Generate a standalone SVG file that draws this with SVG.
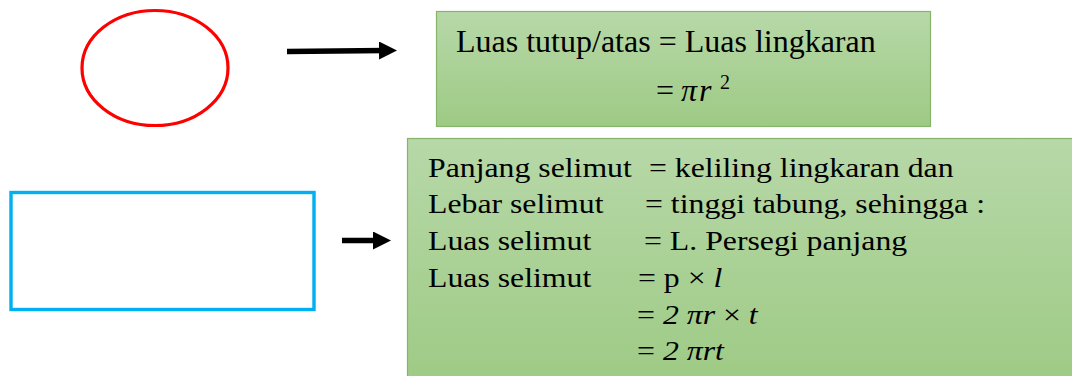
<svg xmlns="http://www.w3.org/2000/svg" width="1072" height="376" viewBox="0 0 1072 376">
<style>
.box{stroke:#86B46A;stroke-width:1.2;fill:url(#g)}
.t{font-family:'Liberation Serif',Tinos,'Times New Roman',serif;fill:#000}
.i{font-style:italic}
.conn{stroke:#000;stroke-width:5.5;fill:none;marker-end:url(#ah)}
</style>
<defs>
<linearGradient id="g" x1="0" y1="0" x2="0" y2="1">
<stop offset="0" stop-color="#B7D8A8"/>
<stop offset="1" stop-color="#9DCA84"/>
</linearGradient>
<marker id="ah" markerUnits="userSpaceOnUse" markerWidth="18" markerHeight="18" refX="6" refY="9" orient="auto">
<path d="M0,0 L18,9 L0,18 z" fill="#000"/>
</marker>
</defs>
<g id="circle"><ellipse cx="155" cy="68" rx="73" ry="57.5" fill="none" stroke="#FF0000" stroke-width="3.2"/></g>
<g id="rect"><rect x="11" y="192.5" width="303" height="117" fill="none" stroke="#00B0F0" stroke-width="3.4"/></g>
<g id="connectors">
<path class="conn" d="M287,51.5 L385,50.5"/>
<path class="conn" d="M342,240.5 L379,240.5"/>
</g>
<g id="box-top">
<rect class="box" x="436.5" y="11.5" width="494" height="115"/>
<text class="t" x="456" y="52" font-size="32">Luas tutup/atas = Luas lingkaran</text>
<text class="t" x="656" y="101" font-size="32">=<tspan class="i" x="681">π</tspan><tspan class="i" x="699">r</tspan><tspan font-size="20" x="720" y="89">2</tspan></text>
</g>
<g id="box-bottom">
<rect class="box" x="407.5" y="138.5" width="680" height="250"/>
<g class="t" font-size="28" transform="matrix(1.135 0 0 1 -57.78 0)">
<text x="428" y="177">Panjang selimut</text><text x="622.7" y="177">= keliling lingkaran dan</text>
<text x="428" y="213.5">Lebar selimut</text><text x="619.2" y="213.5">= tinggi tabung, sehingga :</text>
<text x="428" y="250">Luas selimut</text><text x="618.3" y="250">= L. Persegi panjang</text>
<text x="428" y="287">Luas selimut</text><text x="613" y="287">= p × <tspan class="i">l</tspan></text>
<text x="612.2" y="324">= <tspan class="i">2 πr</tspan> × <tspan class="i">t</tspan></text>
<text x="612.2" y="360.5">= <tspan class="i">2 πrt</tspan></text>
</g>
</g>
</svg>
